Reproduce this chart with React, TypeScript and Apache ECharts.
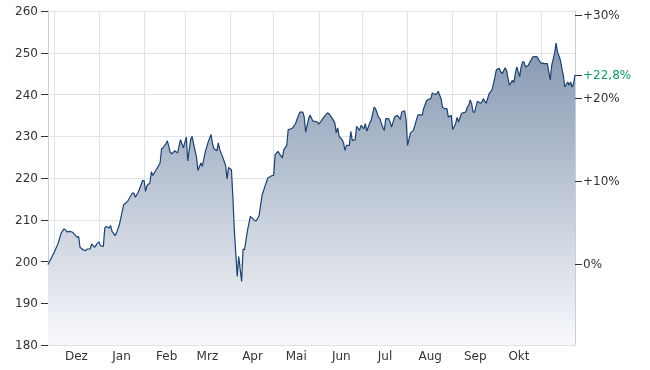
import React, { useEffect, useRef } from "react";
import * as echarts from "echarts";

// ---- data ----
const START_UTC = Date.UTC(2024, 10, 27); // date of day offset 0
const LAST_DAY = 362; // last day offset shown
const dayOffsets = [0,4,7,9,11,12,13,15,17,19,20,21,22,24,26,27,29,30,32,34,35,36,38,39,40,42,43,44,46,47,49,52,54,55,58,59,60,62,65,66,67,68,70,71,72,75,77,78,79,81,82,84,85,87,89,91,92,93,95,96,98,99,100,102,103,105,106,108,110,112,113,114,116,117,118,120,122,123,124,126,127,128,130,131,133,134,135,137,139,140,142,143,145,147,149,151,154,155,156,158,159,161,162,164,165,167,168,170,171,173,175,176,177,179,180,182,183,185,186,188,190,192,193,195,197,198,199,200,202,203,204,205,207,208,209,211,212,214,215,217,218,219,221,222,224,225,227,228,229,231,232,234,235,236,238,240,241,242,243,245,246,247,249,251,252,254,255,257,258,260,261,263,264,265,267,268,270,271,273,274,275,277,278,280,281,282,284,285,287,288,289,290,291,292,293,295,297,298,299,300,301,303,305,306,307,308,310,311,312,314,315,316,317,319,320,321,322,324,325,326,327,328,330,331,332,333,335,336,338,339,340,341,343,344,345,346,348,349,350,352,353,354,355,357,358,359,360,361,362];
const prices = [199.3,202.0,204.4,206.8,207.8,207.6,207.1,207.2,207.0,206.2,205.8,206.0,203.4,202.8,202.6,203.0,203.0,204.2,203.4,204.4,204.7,203.8,203.6,208.0,208.4,208.0,208.6,207.2,206.2,206.8,208.8,213.6,214.2,214.6,216.4,216.4,215.4,216.6,219.4,219.4,216.8,218.2,218.8,221.5,220.6,222.4,223.6,227.0,227.2,228.2,228.9,226.1,225.8,226.5,226.0,229.2,228.2,227.2,229.8,224.1,229.2,230.0,228.2,225.0,221.8,223.6,222.8,226.2,228.6,230.4,228.2,227.0,226.5,228.4,226.8,225.0,223.0,219.8,222.5,222.0,215.4,207.4,196.4,201.2,195.2,203.0,202.8,207.4,210.8,210.5,209.8,209.7,211.0,215.8,218.0,220.0,220.6,220.6,225.6,226.4,225.8,224.8,226.8,227.8,231.6,231.8,232.0,233.0,234.0,235.8,235.8,234.6,231.0,234.2,235.1,233.6,233.6,233.4,232.9,233.8,234.8,235.6,235.4,234.4,233.2,230.8,232.0,230.0,229.2,228.4,226.6,227.8,227.8,231.2,229.0,229.2,232.4,231.4,232.6,231.8,233.0,231.2,233.2,233.8,237.0,236.6,234.6,234.2,233.0,231.4,234.2,234.2,233.4,232.2,234.6,235.0,234.6,234.0,235.8,236.1,233.8,227.8,230.8,231.4,232.6,235.0,235.2,235.0,236.6,238.5,238.8,239.0,240.4,240.1,240.1,240.8,239.0,236.9,236.6,236.6,234.6,235.0,231.6,233.0,234.5,233.4,235.4,235.6,235.8,237.0,237.4,238.7,237.8,235.8,235.8,238.4,237.9,238.2,239.0,238.4,237.9,240.2,241.1,242.6,244.2,245.9,246.3,245.4,245.0,246.4,245.8,243.8,242.2,243.4,242.8,245.0,246.6,244.3,246.6,247.8,247.8,246.6,247.0,247.8,248.3,249.0,249.1,249.0,247.8,247.4,247.5,247.4,247.4,245.4,243.5,247.0,249.9,252.3,250.2,248.2,246.2,244.6,241.8,243.0,242.2,243.0,241.8,242.6,244.7];
const monthNames = ["Jan","Feb","Mrz","Apr","Mai","Jun","Jul","Aug","Sep","Okt","Nov","Dez"];
// month starts (gridlines) Dec 2024 .. Nov 2025; labelled months Dec 2024 .. Oct 2025
const gridMonths: [number, number][] = [[2024,11],[2025,0],[2025,1],[2025,2],[2025,3],[2025,4],[2025,5],[2025,6],[2025,7],[2025,8],[2025,9],[2025,10]];
const labelMonths: [number, number][] = [[2024,11],[2025,0],[2025,1],[2025,2],[2025,3],[2025,4],[2025,5],[2025,6],[2025,7],[2025,8],[2025,9]];
const yMin = 180;
const yMax = 260;
const yStep = 10;
const pctTicks = [0, 10, 20, 30];

const DAY = 86400000;
const toOffset = (y: number, m: number, d: number) => (Date.UTC(y, m, d) - START_UTC) / DAY;

export default function App() {
  const ref = useRef<HTMLDivElement>(null);
  useEffect(() => {
    if (!ref.current) return;
    const chart = echarts.init(ref.current, undefined, { renderer: "svg" });
    const base = prices[0];
    const last = prices[prices.length - 1];
    const lastPct = (last / base - 1) * 100;
    const pct = (v: number) => (v / base - 1) * 100;
    const seriesData = dayOffsets.map((d, i) => [d, prices[i]]);
    const gridTicks = gridMonths.map(([y, m]) => toOffset(y, m, 1));
    const labelTicks = labelMonths.map(([y, m]) => toOffset(y, m, 16) + 0.5);
    const textColor = "#333333";
    const font = "DejaVu Sans, Verdana, sans-serif";
    const gridColor = "#dfe2e8";
    const axisColor = "#c9ced6";

    chart.setOption({
      animation: false,
      grid: { left: 48, right: 75, top: 11, bottom: 25, containLabel: false, outerBoundsMode: "none" },
      xAxis: {
        type: "value",
        min: 0,
        max: LAST_DAY,
        axisLine: { show: true, lineStyle: { color: axisColor, width: 1 } },
        axisTick: { show: false, customValues: gridTicks },
        splitLine: { show: true, lineStyle: { color: gridColor, width: 1 } },
        axisLabel: {
          customValues: labelTicks,
          formatter: (v: number) => monthNames[new Date(START_UTC + v * DAY).getUTCMonth()],
          color: textColor,
          fontFamily: font,
          fontSize: 12,
          margin: 5,
        },
      },
      yAxis: [
        {
          type: "value",
          min: yMin,
          max: yMax,
          interval: yStep,
          position: "left",
          axisLine: { show: true, lineStyle: { color: axisColor } },
          axisTick: { show: true, inside: false, length: 7, lineStyle: { color: "#333" } },
          splitLine: { show: true, lineStyle: { color: gridColor, width: 1 } },
          axisLabel: { color: textColor, fontFamily: font, fontSize: 12, margin: 10 },
        },
        {
          type: "value",
          min: pct(yMin),
          max: pct(yMax),
          position: "right",
          axisLine: { show: true, lineStyle: { color: axisColor } },
          axisTick: { show: true, length: 7, customValues: [...pctTicks, lastPct], lineStyle: { color: "#333" } },
          splitLine: { show: false },
          axisLabel: {
            customValues: [...pctTicks, lastPct],
            color: textColor,
            fontFamily: font,
            fontSize: 12,
            margin: 8,
            formatter: (v: number) => {
              if (Math.abs(v - lastPct) < 1e-6) {
                return "{g|+" + lastPct.toFixed(1).replace(".", ",") + "%}";
              }
              const r = Math.round(v);
              return (r > 0 ? "+" : "") + r + "%";
            },
            rich: { g: { color: "#12976a", fontFamily: font, fontSize: 12 } },
          },
        },
      ],
      series: [
        {
          type: "line",
          xAxisIndex: 0,
          yAxisIndex: 0,
          data: seriesData,
          showSymbol: false,
          symbol: "none",
          lineStyle: { color: "#1d4270", width: 1.2 },
          areaStyle: {
            color: new echarts.graphic.LinearGradient(0, 0, 0, 1, [
              { offset: 0, color: "#8597b1" },
              { offset: 1, color: "#f8f9fb" },
            ]),
            opacity: 1,
          },
        },
      ],
    });
    return () => chart.dispose();
  }, []);
  return <div ref={ref} style={{ position: "fixed", left: 0, top: 0, width: 650, height: 370 }} />;
}
